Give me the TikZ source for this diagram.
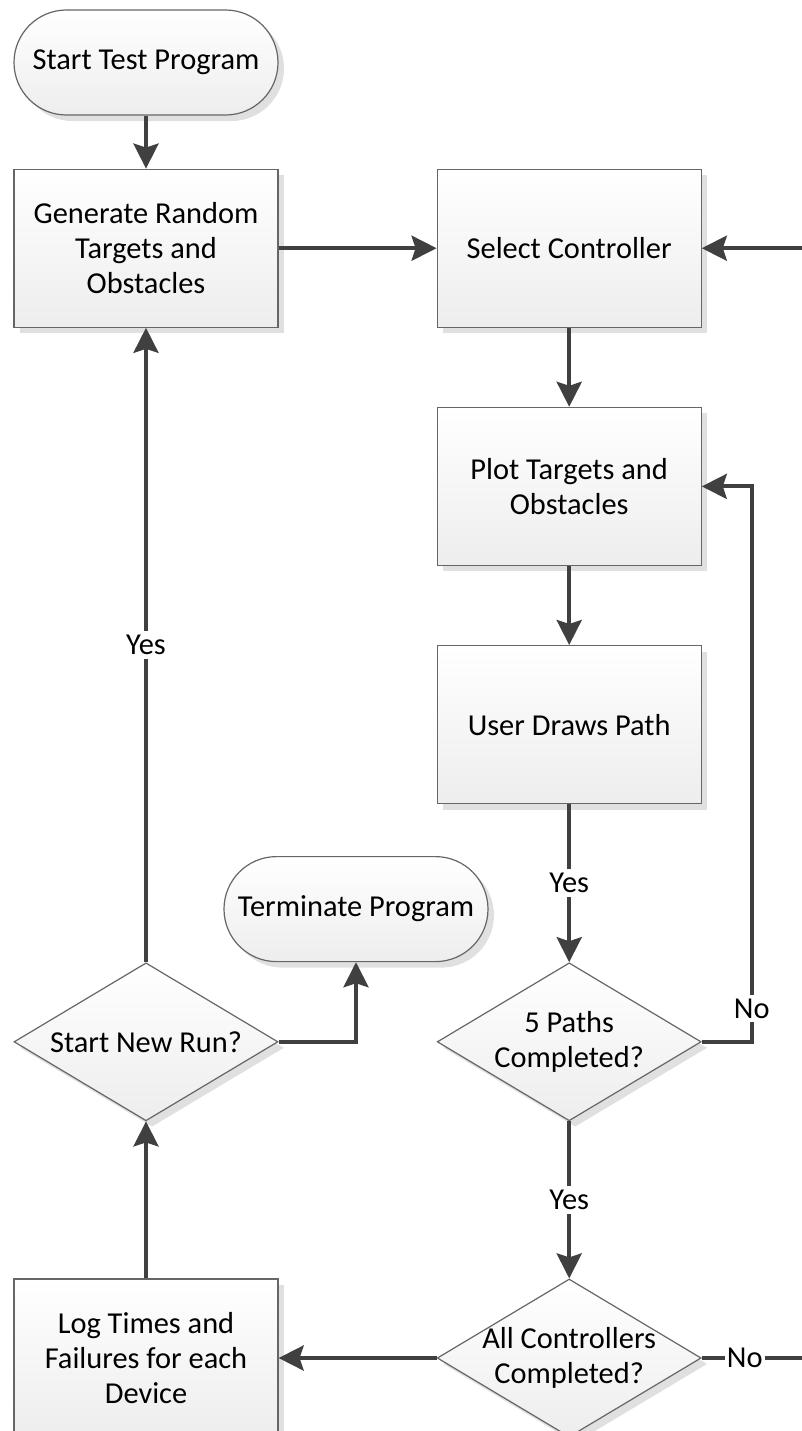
\documentclass[tikz,border=0pt]{standalone}
\usepackage{fontspec}
\setmainfont{Carlito}
\usetikzlibrary{positioning, arrows.meta, shapes.geometric, shadows}

\begin{document}
\begin{tikzpicture}[
        x=0.5pt, y=-0.5pt,
        font=\fontsize{15.2pt}{17.5pt}\selectfont,
        node distance=39.5pt and 79pt,
        shaded/.style={top color=white, bottom color=black!7, draw=black!60, line width=0.6pt,
            drop shadow={shadow xshift=3pt, shadow yshift=-3pt, fill=black!12, opacity=1}},
        box/.style={shaded, rectangle, minimum width=132pt, minimum height=79pt, align=center, inner sep=2pt},
        terminal/.style={shaded, rectangle, rounded corners=26.25pt, minimum width=132pt, minimum height=52.5pt, align=center},
        decision/.style={shaded, diamond, aspect=1.67, minimum width=132pt, minimum height=79pt, inner sep=-6pt, align=center},
        arrow/.style={-{Stealth[length=12.5pt, width=12.5pt, inset=2pt]}, line width=2pt, draw=black!75},
        lab/.style={fill=white, inner sep=2pt, text=black}
    ]
        \useasboundingbox (0,0) rectangle (802,1431);
        \clip (0,0) rectangle (802,1431);

        % Nodes
        \node[terminal] (start) at (146,62.5) {Start Test Program};
        \node[box, below=26.5pt of start] (generate) {Generate Random\\Targets and\\Obstacles};
        \node[box, right=79pt of generate] (select) {Select Controller};
        \node[box, below=of select] (plot) {Plot Targets and\\Obstacles};
        \node[box, below=of plot] (user) {User Draws Path};
        \node[decision, below=79pt of user] (fivepaths) {5 Paths\\Completed?};
        \node[decision, below=78.5pt of fivepaths] (allctrl) {All Controllers\\Completed?};
        \node[box] (log) at (generate |- allctrl) {Log Times and\\Failures for each\\Device};
        \node[decision] (newrun) at (generate |- fivepaths) {Start New Run?};
        \node[terminal, anchor=south] (terminate) at ([xshift=105pt]newrun.north) {Terminate Program};
        \coordinate (rail) at (812,0);

        % Arrows
        \draw[arrow] (start) -- (generate);
        \draw[arrow] (generate) -- (select);
        \draw[arrow] (select) -- (plot);
        \draw[arrow] (plot) -- (user);
        \draw[arrow] (user) -- node[lab]{Yes} (fivepaths);
        \draw[arrow] (fivepaths.east) -- ++(25pt,0) |- node[lab, pos=0.03]{No} (plot.east);
        \draw[arrow] (fivepaths) -- node[lab]{Yes} (allctrl);
        \draw[arrow] (allctrl) -- (log);
        \draw[arrow] (log) -- (newrun);
        \draw[arrow] (newrun) -- node[lab]{Yes} (generate);
        \draw[arrow] (newrun.east) -| (terminate.south);
        \draw[arrow] (allctrl.east) -- node[lab, pos=0.39, inner xsep=1pt]{No} (allctrl.east -| rail) |- (select.east);
    \end{tikzpicture}
\end{document}
